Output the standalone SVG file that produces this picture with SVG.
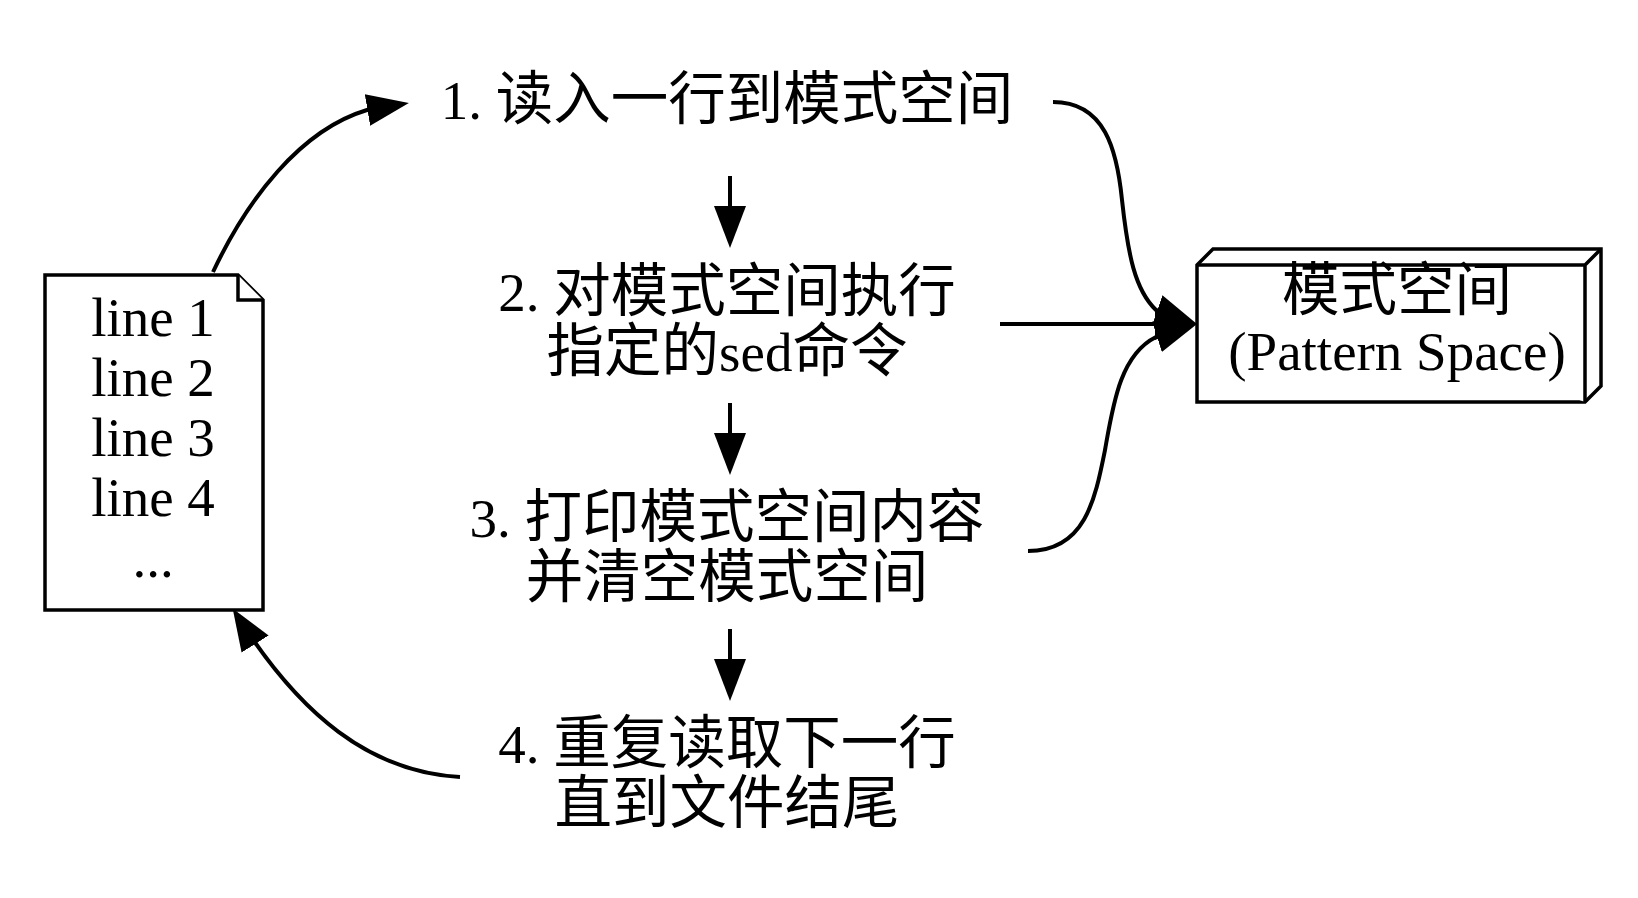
<svg xmlns="http://www.w3.org/2000/svg" width="1638" height="898" viewBox="0 0 1638 898">
<defs><marker id="a" markerUnits="userSpaceOnUse" markerWidth="44" markerHeight="36" refX="32" refY="18" orient="auto"><path d="M0 2L42 18L0 34Z" fill="#000"/></marker></defs>
<style>text{font-family:"Liberation Serif","Noto Sans CJK SC",serif;font-size:55px;text-anchor:middle;fill:#000}.c{font-size:57.5px}.e{fill:none;stroke:#000;stroke-width:4}.n{fill:#fff;stroke:#000;stroke-width:3.5}</style>
<rect width="1638" height="898" fill="#fff"/>
<g id="connectors">
<path class="e" marker-end="url(#a)" d="M213 272C247 200 300 130 367 110L399 104.6"/>
<path class="e" marker-end="url(#a)" d="M730 176V238"/>
<path class="e" marker-end="url(#a)" d="M730 403V465"/>
<path class="e" marker-end="url(#a)" d="M730 629V691"/>
<path class="e" marker-end="url(#a)" d="M460 777C370 772 300 715 238 617"/>
<path class="e" marker-end="url(#a)" d="M1053 102C1105 102 1117 150 1122 200C1128 255 1135 290 1156 310L1187.5 320.8"/>
<path class="e" marker-end="url(#a)" d="M1000 324H1187"/>
<path class="e" marker-end="url(#a)" d="M1028 551C1085 551 1095 500 1105 450C1113 405 1120 355 1156 337L1187.5 327"/>
</g>
<g id="file"><path class="n" d="M45 275H238L263 300V610H45Z"/><path class="n" d="M238 275V300H263"/>
<text x="153" y="336">line 1</text><text x="153" y="396">line 2</text><text x="153" y="456">line 3</text><text x="153" y="516">line 4</text><text x="153" y="577">...</text></g>
<g id="s1"><text x="727" y="119">1. <tspan class="c">读入一行到模式空间</tspan></text></g>
<g id="s2"><text x="727" y="311">2. <tspan class="c">对模式空间执行</tspan></text><text x="727" y="371"><tspan class="c">指定的</tspan>sed<tspan class="c">命令</tspan></text></g>
<g id="s3"><text x="727" y="537">3. <tspan class="c">打印模式空间内容</tspan></text><text x="727" y="597"><tspan class="c">并清空模式空间</tspan></text></g>
<g id="s4"><text x="727" y="763">4. <tspan class="c">重复读取下一行</tspan></text><text x="727" y="823"><tspan class="c">直到文件结尾</tspan></text></g>
<g id="space"><path class="n" d="M1197 265L1213 249H1601V386L1585 402H1197Z"/><path class="n" d="M1197 265H1585V402M1585 265L1601 249"/>
<text x="1397" y="310"><tspan class="c">模式空间</tspan></text><text x="1397" y="370">(Pattern Space)</text></g>
</svg>
